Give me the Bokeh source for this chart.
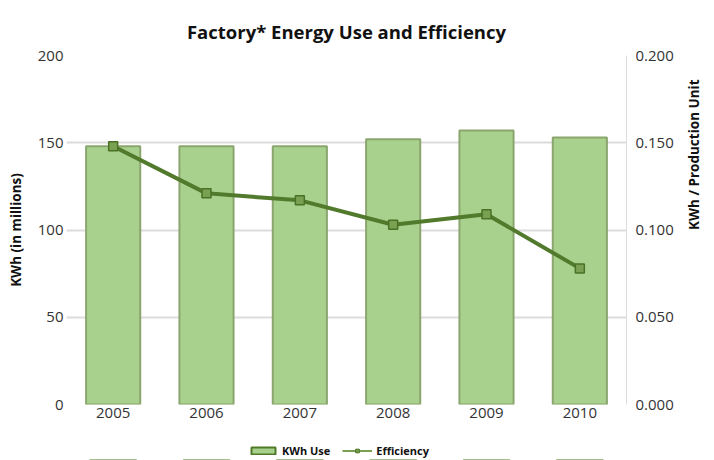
import math
from bokeh.plotting import figure
from bokeh.layouts import column
from bokeh.models import (Range1d, LinearAxis, FactorRange, Legend, LegendItem,
                          FixedTicker, NumeralTickFormatter)
from bokeh.embed import file_html
from bokeh.resources import INLINE

years = ["2005", "2006", "2007", "2008", "2009", "2010"]
kwh_use = [148, 148, 148, 152, 157, 153]
efficiency = [0.148, 0.121, 0.117, 0.103, 0.109, 0.078]
left_ticks = [0, 50, 100, 150, 200]
right_ticks = [0.0, 0.05, 0.1, 0.15, 0.2]

FONT = "Open Sans"
BAR_FILL = "#a9d18e"
BAR_LINE = "#8aa66e"
LINE_COL = "#527a2c"
MARK_FILL = "#7aa052"
MARK_LINE = "#4a7226"

p = figure(width=714, height=428,
           x_range=FactorRange(*years, range_padding=0),
           y_range=Range1d(0, 200),
           output_backend="svg", toolbar_location=None,
           title="Factory* Energy Use and Efficiency",
           min_border_left=66, min_border_right=84,
           min_border_top=55, min_border_bottom=24)
p.extra_y_ranges = {"eff": Range1d(0, 0.2)}

p.outline_line_color = None
p.background_fill_color = "white"
p.border_fill_color = "white"

p.title.align = "center"
p.title.text_font = FONT
p.title.text_font_size = "18.5px"
p.title.text_font_style = "bold"
p.title.text_color = "#111111"
p.title.standoff = 24

# grids
p.xgrid.grid_line_color = None
p.ygrid.ticker = FixedTicker(ticks=left_ticks)
p.ygrid.grid_line_color = "#dcdcdc"
p.ygrid.grid_line_width = 2

# left axis
ya = p.yaxis[0]
ya.ticker = FixedTicker(ticks=left_ticks)
ya.axis_line_color = None
ya.major_tick_line_color = None
ya.minor_tick_line_color = None
ya.major_tick_out = 0
ya.major_tick_in = 0
ya.major_label_text_font = FONT
ya.major_label_text_font_size = "15px"
ya.major_label_text_color = "#333333"
ya.major_label_standoff = 3
ya.axis_label = "KWh (in millions)"
ya.axis_label_text_font = FONT
ya.axis_label_text_font_size = "13.5px"
ya.axis_label_text_font_style = "bold"
ya.axis_label_text_color = "#111111"
ya.axis_label_standoff = 10

# right axis
ra = LinearAxis(y_range_name="eff",
                ticker=FixedTicker(ticks=right_ticks),
                formatter=NumeralTickFormatter(format="0.000"))
ra.axis_line_color = "#dcdcdc"
ra.axis_line_width = 1
ra.major_tick_line_color = None
ra.minor_tick_line_color = None
ra.major_tick_out = 0
ra.major_tick_in = 0
ra.major_label_text_font = FONT
ra.major_label_text_font_size = "15px"
ra.major_label_text_color = "#333333"
ra.major_label_standoff = 9
ra.axis_label = "KWh / Production Unit"
ra.axis_label_text_font = FONT
ra.axis_label_text_font_size = "13.5px"
ra.axis_label_text_font_style = "bold"
ra.axis_label_text_color = "#111111"
ra.axis_label_standoff = 17
ra.axis_label_orientation = math.pi / 2
p.add_layout(ra, "right")

# x axis
xa = p.xaxis[0]
xa.axis_line_color = None
xa.major_tick_line_color = None
xa.minor_tick_line_color = None
xa.major_tick_out = 0
xa.major_tick_in = 0
xa.major_label_text_font = FONT
xa.major_label_text_font_size = "15px"
xa.major_label_text_color = "#333333"
xa.major_label_standoff = 3

p.vbar(x=years, top=kwh_use, width=0.58,
       fill_color=BAR_FILL, line_color=BAR_LINE, line_width=2)
p.line(x=years, y=efficiency, y_range_name="eff",
       line_color=LINE_COL, line_width=4)
p.scatter(x=years, y=efficiency, y_range_name="eff", marker="square",
          size=9, fill_color=MARK_FILL, line_color=MARK_LINE, line_width=1.5)

# legend strip (separate figure below the chart); its renderers carry the same
# data but lie far below this strip's view range, so only the legend shows
leg = figure(width=714, height=32,
             x_range=FactorRange(*years, range_padding=0),
             y_range=Range1d(1000, 1001),
             output_backend="svg", toolbar_location=None,
             min_border_left=0, min_border_right=0,
             min_border_top=0, min_border_bottom=0)
leg.axis.visible = False
leg.grid.visible = False
leg.outline_line_color = None
leg.border_fill_color = "white"
leg.background_fill_color = "white"
lb = leg.vbar(x=years, top=kwh_use, bottom=0, width=0.5,
              fill_color=BAR_FILL, line_color="#4e7a26", line_width=2)
ll = leg.line(x=years, y=efficiency, line_color="#7aa052", line_width=2)
lm = leg.scatter(x=years, y=efficiency, marker="square", size=8,
                 fill_color=MARK_FILL, line_color=MARK_LINE, line_width=1)

legend = Legend(items=[LegendItem(label="KWh Use", renderers=[lb]),
                       LegendItem(label="Efficiency", renderers=[ll, lm])],
                orientation="horizontal", location=(182, 2))
legend.label_text_font = FONT
legend.label_text_font_size = "11px"
legend.label_text_font_style = "bold"
legend.label_text_color = "#111111"
legend.glyph_width = 30
legend.glyph_height = 9
legend.label_standoff = 4
legend.spacing = 12
legend.padding = 0
legend.margin = 0
legend.border_line_color = None
legend.background_fill_alpha = 0
leg.add_layout(legend)

page = column(p, leg, spacing=0)
open("out.html", "w").write(file_html(page, INLINE))
